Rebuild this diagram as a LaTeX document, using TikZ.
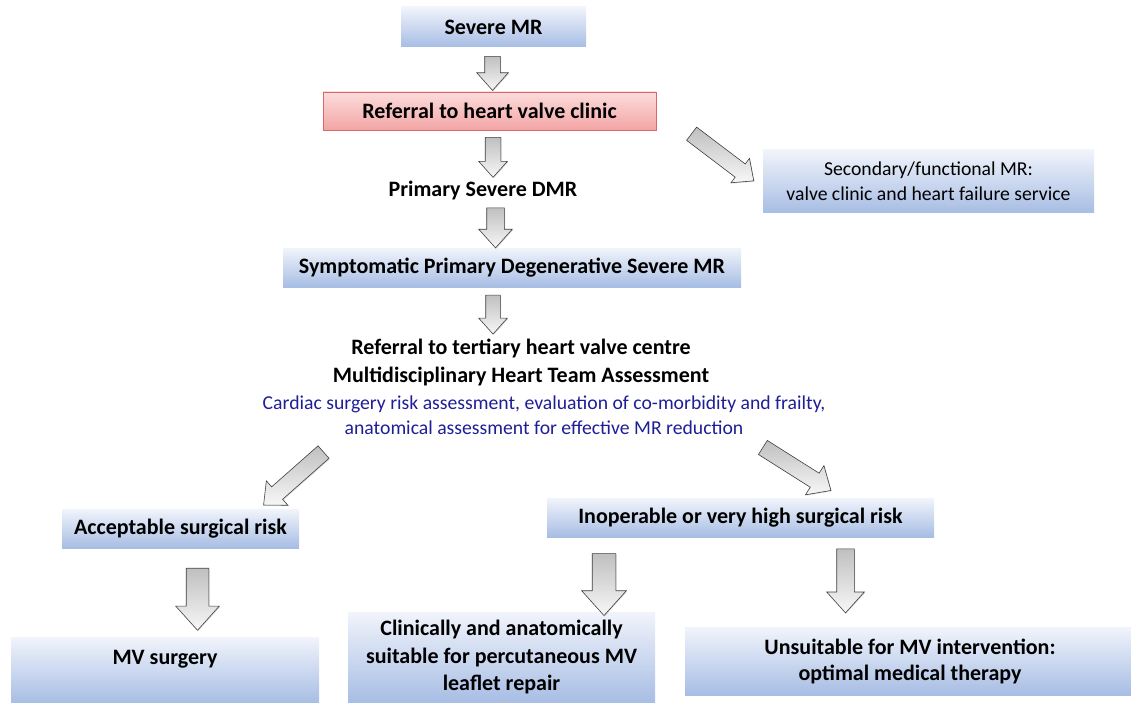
\documentclass[tikz,border=0pt]{standalone}
\usepackage{fontspec}
\setmainfont{Carlito}
\usetikzlibrary{shapes.arrows,shadows}

\definecolor{boxtop}{RGB}{241,244,251}
\definecolor{boxbot}{RGB}{167,189,228}
\definecolor{redtop}{RGB}{252,220,220}
\definecolor{redbot}{RGB}{243,165,165}
\definecolor{redline}{RGB}{218,104,104}
\definecolor{notetext}{RGB}{30,30,150}

\begin{document}
\begin{tikzpicture}[x=1pt, y=-1pt,
    bluebox/.style={top color=boxtop, bottom color=boxbot, inner sep=0pt, align=center,
        font=\bfseries\fontsize{22}{28}\selectfont},
    redbox/.style={bluebox, top color=redtop, bottom color=redbot, draw=redline, line width=0.8pt},
    plain/.style={inner sep=0pt, align=center, font=\bfseries\fontsize{22}{28}\selectfont},
    note/.style={inner sep=0pt, align=center, text=notetext, font=\fontsize{19.7}{25}\selectfont},
    bigarrow/.style={single arrow, draw=black!75, line width=0.6pt, inner xsep=0pt,
        top color=gray!50, bottom color=gray!6, single arrow head indent=0pt,
        single arrow tip angle=84, sloped, allow upside down,
        drop shadow={shadow xshift=0.8pt, shadow yshift=-0.8pt, opacity=0.3}},
    blockarrow/.style n args={4}{bigarrow, minimum height=#1, minimum width=#2,
        inner ysep=#3, single arrow head extend=#4},
]
    % Fix the page to the size of the chart
    \useasboundingbox (0,0) rectangle (1131,703);

    % Upper part of the pathway
    \node[bluebox, minimum width=185, minimum height=40] (severe) at (493.5,27) {Severe MR};
    \node[redbox, minimum width=333, minimum height=38] (clinic) at (489.5,111) {Referral to heart valve clinic};
    \node[bluebox, font=\fontsize{19.7}{25}\selectfont, minimum width=331, minimum height=63] (functional) at (928.5,181.5)
        {Secondary/functional MR:\\valve clinic and heart failure service};
    \node[plain] (dmr) at (483,191) {Primary Severe DMR};
    \node[bluebox, minimum width=458, minimum height=39] (symptomatic) at (512,267.5)
        {Symptomatic Primary Degenerative Severe MR};

    % Heart team assessment
    \node[plain] (tertiary) at (521,362) {Referral to tertiary heart valve centre\\Multidisciplinary Heart Team Assessment};
    \node[note] (assess) at (544,415) 
        {Cardiac surgery risk assessment, evaluation of co-morbidity and frailty,\\anatomical assessment for effective MR reduction};

    % Risk groups
    \node[bluebox, minimum width=237, minimum height=39] (acceptable) at (180.5,528.5) {Acceptable surgical risk};
    \node[bluebox, minimum width=387, minimum height=39] (inoperable) at (740.5,517.5) {Inoperable or very high surgical risk};

    % Treatment options
    \node[bluebox, minimum width=308, text height=27pt, text depth=39pt, anchor=base] (surgery) at (165,664) {MV surgery};
    \node[bluebox, minimum width=307, minimum height=91, font=\bfseries\fontsize{22}{27.5}\selectfont] (repair) at (501.5,657.5)
        {Clinically and anatomically\\suitable for percutaneous MV\\leaflet repair};
    \node[bluebox, minimum width=450, minimum height=68, font=\bfseries\fontsize{22}{26}\selectfont] (medical) at (910,661)
        {Unsuitable for MV intervention:\\optimal medical therapy};

    % Arrow ends
    \coordinate (a1s) at (492.5,52);   \coordinate (a1e) at (492.5,86);
    \coordinate (a2s) at (493,133);    \coordinate (a2e) at (493,173);
    \coordinate (a3s) at (495.5,203);  \coordinate (a3e) at (495.5,243);
    \coordinate (a4s) at (493,291);    \coordinate (a4e) at (493,330);
    \coordinate (a5s) at (688,131);    \coordinate (a5e) at (750,178);
    \coordinate (a6s) at (327,449);    \coordinate (a6e) at (267,502);
    \coordinate (a7s) at (759,445);    \coordinate (a7e) at (827,488);
    \coordinate (a8s) at (197.5,562);  \coordinate (a8e) at (197.5,624);
    \coordinate (a9s) at (604,547);    \coordinate (a9e) at (604,609);
    \coordinate (a10s) at (845.5,544); \coordinate (a10e) at (845.5,608);

    % Block arrows: length, head width, half shaft, head extend
    \path (a1s) -- node[blockarrow={34}{31}{7.5}{8}] {} (a1e);
    \path (a2s) -- node[blockarrow={40}{28}{7.5}{6.5}] {} (a2e);
    \path (a3s) -- node[blockarrow={40}{33}{8.5}{8}] {} (a3e);
    \path (a4s) -- node[blockarrow={39}{28}{7}{7}] {} (a4e);
    \path (a5s) -- node[blockarrow={78}{30}{8}{7}] {} (a5e); % to functional MR
    \path (a6s) -- node[blockarrow={80}{32}{8}{8}] {} (a6e);
    \path (a7s) -- node[blockarrow={80.5}{34}{8}{9}] {} (a7e);
    \path (a8s) -- node[blockarrow={62}{43}{11}{10.5}] {} (a8e);
    \path (a9s) -- node[blockarrow={62}{44}{11.5}{10.5}] {} (a9e);
    \path (a10s) -- node[blockarrow={64}{37}{8.5}{10}] {} (a10e);
\end{tikzpicture}
\end{document}
